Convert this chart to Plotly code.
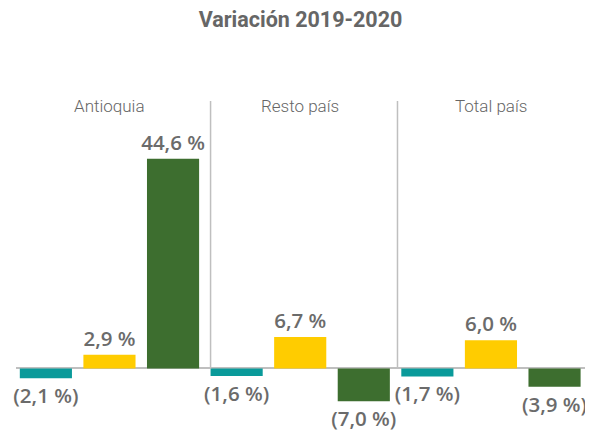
import plotly.graph_objects as go

categories = ["Antioquia", "Resto país", "Total país"]
teal_values = [-2.1, -1.6, -1.7]
yellow_values = [2.9, 6.7, 6.0]
green_values = [44.6, -7.0, -3.9]
series_colors = ["#0A9A9A", "#FFCC00", "#3D6E2F"]
title_text = "Variación 2019-2020"


def fmt(v):
    s = f"{abs(v):.1f}".replace(".", ",") + " %"
    return f"({s})" if v < 0 else s


label_font = dict(family="Open Sans", size=20.5, color="#6B6B6B", weight=600)

fig = go.Figure()
for vals, col in zip([teal_values, yellow_values, green_values], series_colors):
    fig.add_trace(go.Bar(
        x=categories, y=vals, marker=dict(color=col, line=dict(width=0)),
        text=[fmt(v) for v in vals], textposition="outside",
        textfont=label_font, constraintext="none", cliponaxis=False,
        showlegend=False, hoverinfo="skip",
    ))

y_range = [-11.6, 57.3]
sep_top = 56.9
sep_offsets = [0.03, 0.01]
for i in range(len(categories) - 1):
    xs = i + 0.5 + sep_offsets[i]
    fig.add_shape(type="line", xref="x", yref="y", x0=xs, x1=xs,
                  y0=0, y1=sep_top, line=dict(color="#BFBFBF", width=1.5))

for c in categories:
    fig.add_annotation(x=c, xref="x", y=1, yref="paper", yanchor="top", yshift=5,
                       text=c, showarrow=False,
                       font=dict(family="Roboto", size=17, color="#666666", weight=300))

W, H = 585, 424
fig.update_layout(
    width=W, height=H,
    paper_bgcolor="white", plot_bgcolor="white",
    margin=dict(l=8, r=0, t=91, b=9),
    barmode="group", bargap=0, bargroupgap=0.18,
    title=dict(text=title_text, x=0.5, xanchor="center", y=1 - 11 / H,
               yanchor="middle", yref="container",
               font=dict(family="Roboto", size=21.5, color="#666666", weight="bold")),
    xaxis=dict(range=[-0.49, 2.535], showticklabels=False, showgrid=False,
               zeroline=False, showline=False, ticks=""),
    yaxis=dict(range=y_range, showticklabels=False, showgrid=False, zeroline=True,
               zerolinecolor="#BFBFBF", zerolinewidth=2, showline=False, ticks=""),
)

fig.write_html("out.html")
